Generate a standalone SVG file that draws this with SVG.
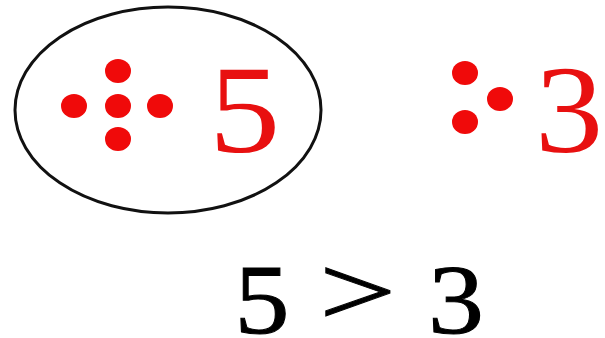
<svg xmlns="http://www.w3.org/2000/svg" width="605" height="338" viewBox="0 0 605 338">
<style>
.dot{fill:#f00a0a}
.red{fill:#e81010;font-family:"Liberation Serif","Times New Roman",serif;font-size:124px}
.blk{fill:#000;stroke:#000;stroke-width:1;font-family:"Liberation Serif","Times New Roman",serif;font-size:100px}
</style>
<rect width="605" height="338" fill="#fff"/>
<g id="group-five">
<ellipse cx="168" cy="110" rx="153" ry="103" fill="none" stroke="#111" stroke-width="3"/>
<ellipse class="dot" cx="118" cy="71" rx="13" ry="12"/>
<ellipse class="dot" cx="74" cy="106" rx="13" ry="12"/>
<ellipse class="dot" cx="118" cy="106" rx="13" ry="12"/>
<ellipse class="dot" cx="160" cy="106" rx="13" ry="12"/>
<ellipse class="dot" cx="118" cy="139" rx="13" ry="12"/>
<text class="red" transform="translate(209,152) scale(1.15,1)">5</text>
</g>
<g id="group-three">
<ellipse class="dot" cx="465" cy="73" rx="13" ry="12"/>
<ellipse class="dot" cx="500" cy="99" rx="13" ry="12"/>
<ellipse class="dot" cx="465" cy="122" rx="13" ry="12"/>
<text class="red" transform="translate(535,152) scale(1.1,1)">3</text>
</g>
<g id="comparison">
<text class="blk" transform="translate(234.5,333) scale(1.1,1)">5</text>
<text class="blk" transform="translate(319,325) scale(1.37,1)">&gt;</text>
<text class="blk" transform="translate(428,333) scale(1.12,1)">3</text>
</g>
</svg>
